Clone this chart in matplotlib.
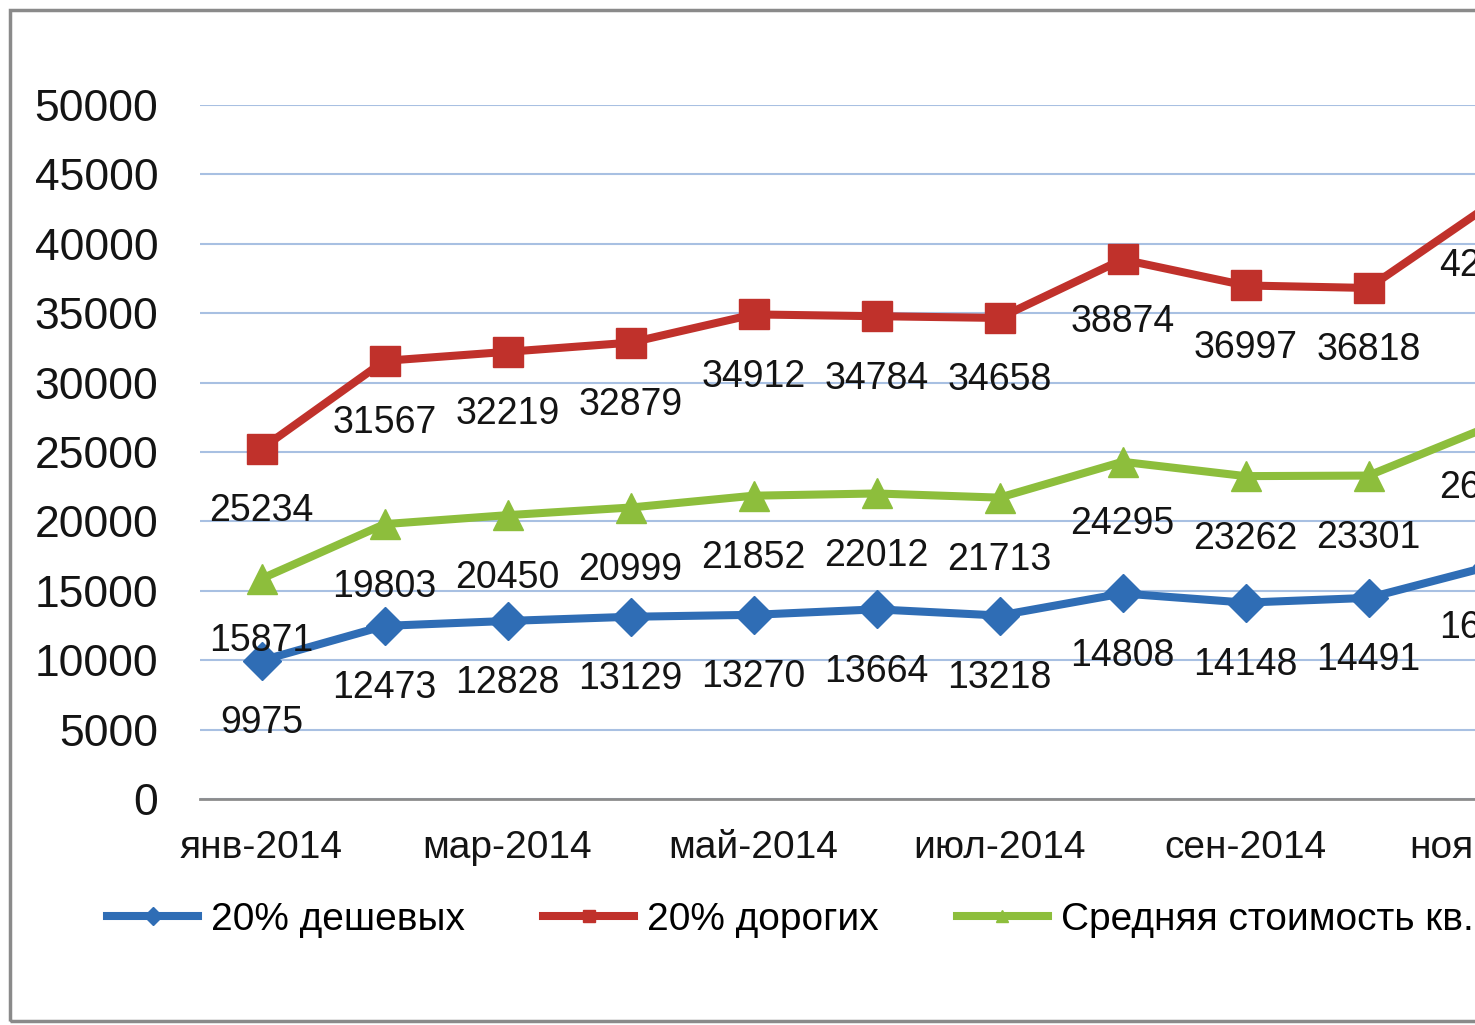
import matplotlib
matplotlib.use("Agg")
import matplotlib.pyplot as plt
from matplotlib.patches import Rectangle
from matplotlib import font_manager

# data (last month is cut off at the right edge)
MONTHS = ["янв-2014", "фев-2014", "мар-2014", "апр-2014", "май-2014", "июн-2014",
          "июл-2014", "авг-2014", "сен-2014", "окт-2014", "ноя-2014"]
CHEAP = [9975, 12473, 12828, 13129, 13270, 13664, 13218, 14808, 14148, 14491, 16800]
EXPENSIVE = [25234, 31567, 32219, 32879, 34912, 34784, 34658, 38874, 36997, 36818, 42900]
AVERAGE = [15871, 19803, 20450, 20999, 21852, 22012, 21713, 24295, 23262, 23301, 26900]

SERIES_NAMES = ["20% дешевых", "20% дорогих", "Средняя стоимость кв.м"]

COLORS = ["#2F6DB5", "#C0312B", "#8DBE3C"]
MARKERS = ["D", "s", "^"]
MSIZES = [19, 21, 22]

W, H = 1475, 1025
FONT = "Liberation Sans"
names = {f.name for f in font_manager.fontManager.ttflist}
NARROW = "Liberation Sans Narrow" if "Liberation Sans Narrow" in names else FONT


def main() -> None:
    fig = plt.figure(figsize=(W / 100, H / 100), dpi=100)
    ax = fig.add_axes([200 / W, 1 - 799 / H, 12 * 123 / W, 694 / H])

    x = list(range(len(MONTHS)))
    handles = []
    for vals, name, col, mk, ms in zip([CHEAP, EXPENSIVE, AVERAGE], SERIES_NAMES,
                                       COLORS, MARKERS, MSIZES):
        ax.plot(x, vals, color=col, lw=5.8, marker=mk, ms=ms, zorder=3,
                solid_joinstyle="miter")
        h, = ax.plot([], [], color=col, lw=5.8, marker=mk, ms=9, label=name)
        handles.append(h)
        for xi, v in zip(x, vals):
            ax.annotate(str(v), (xi, v), xytext=(0, -45), textcoords="offset points",
                        ha="center", va="center", fontsize=27, family=FONT,
                        color="#141414", zorder=4, annotation_clip=False)

    ax.set_xlim(-0.5, 11.5)
    ax.set_ylim(0, 50000)
    ax.set_yticks(range(0, 50001, 5000))
    ax.set_yticklabels([str(v) for v in range(0, 50001, 5000)], fontsize=32, family=FONT)
    ax.set_xticks(x[::2])
    ax.set_xticklabels(MONTHS[::2], fontsize=28, family=FONT)
    ax.tick_params(axis="y", length=0, pad=30, labelcolor="#141414")
    ax.tick_params(axis="x", length=0, pad=22, labelcolor="#141414")
    ax.grid(axis="y", color="#A8C0E2", lw=1.5)
    ax.set_axisbelow(True)
    for s in ["top", "right", "left"]:
        ax.spines[s].set_visible(False)
    ax.spines["bottom"].set_color("#8c8c8c")
    ax.spines["bottom"].set_linewidth(2)

    fig.legend(handles=handles, loc="center left", bbox_to_anchor=(72 / W, 1 - 920 / H),
               ncol=3, frameon=False, prop={"family": NARROW, "size": 28},
               handlelength=2.35, handletextpad=0.33, columnspacing=2.0)

    fig.patches.append(Rectangle((10 / W, 4 / H), 1.2, 1 - 14 / H, transform=fig.transFigure,
                                 fill=False, edgecolor="#8a8a8a", lw=2.5))

    fig.savefig("out.png", dpi=100)
    plt.close(fig)


if __name__ == "__main__":
    main()
